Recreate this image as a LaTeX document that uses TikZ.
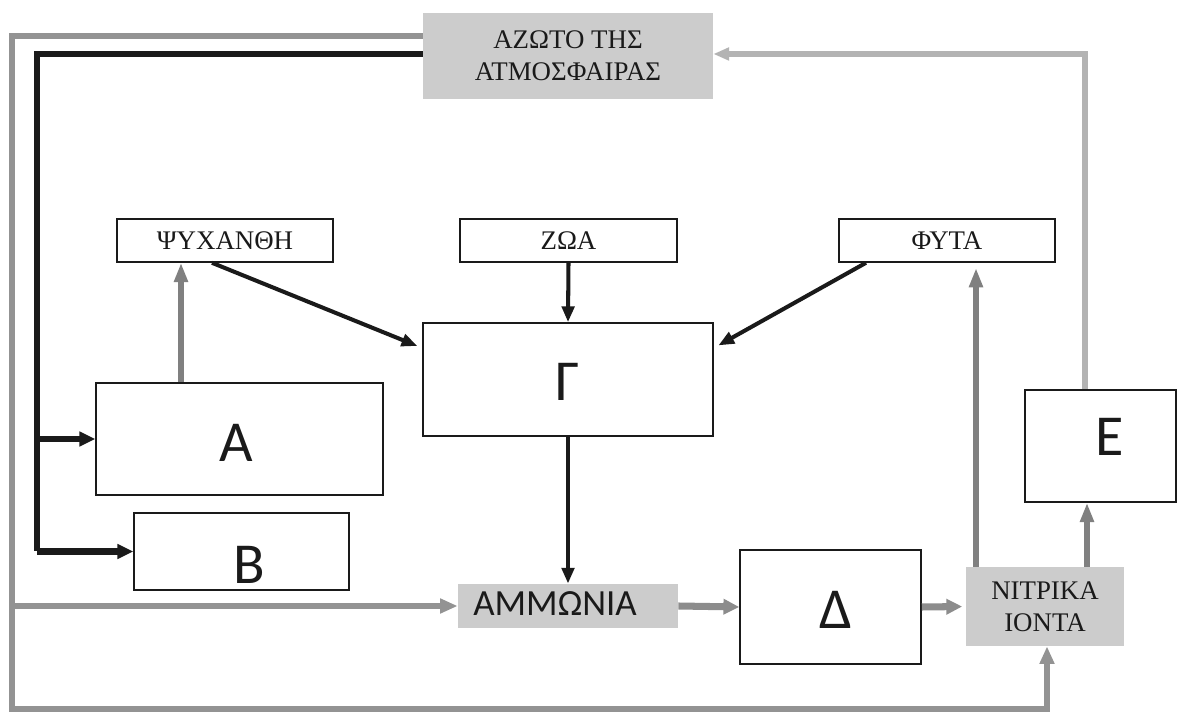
\documentclass[tikz,border=0pt]{standalone}
\usepackage{fontspec}
\setmainfont{Liberation Serif}
\newfontfamily\sansgr{Carlito}
\usetikzlibrary{arrows.meta}
\definecolor{boxgray}{HTML}{CCCCCC}
\definecolor{outergray}{HTML}{939393}
\definecolor{lightgray}{HTML}{B3B3B3}
\definecolor{arrgray}{HTML}{808080}
\definecolor{thickgray}{HTML}{8C8C8C}
\definecolor{blk}{HTML}{1A1A1A}
\begin{document}
\begin{tikzpicture}[x=0.02cm,y=-0.02cm,
  frame/.style={draw=blk,line width=0.9pt,rectangle,inner sep=0pt},
  shaded/.style={fill=boxgray,rectangle,inner sep=0pt},
  serlab/.style={font=\fontsize{15.3}{18}\selectfont,align=center,text=blk},
  biglab/.style={font=\sansgr\fontsize{33}{36}\selectfont,text=blk,inner sep=0pt},
  outerline/.style={draw=outergray,line width=3.4pt},
  lightline/.style={draw=lightgray,line width=3.4pt},
  blkline/.style={draw=blk,line width=3.6pt},
  blkarrow/.style={draw=blk,line width=2.3pt,-{Triangle[length=9pt,width=7pt]}},
  garrow/.style={draw=arrgray,line width=3.2pt,-{Triangle[length=11pt,width=7.5pt]}},
  tgarrow/.style={draw=thickgray,line width=4pt,-{Triangle[length=9pt,width=8.5pt]}},
]
\useasboundingbox[fill=white] (0,0) rectangle (1177,715);

% boxes
\node[shaded,minimum width=5.8cm,minimum height=1.72cm,serlab] (azoto) at (568,56) {ΑΖΩΤΟ ΤΗΣ\\ΑΤΜΟΣΦΑΙΡΑΣ};
\node[frame,minimum width=4.32cm,minimum height=0.86cm,serlab] (psy) at (225,240.5) {ΨΥΧΑΝΘΗ};
\node[frame,minimum width=4.34cm,minimum height=0.86cm,serlab] (zoa) at (568.5,240.5) {ΖΩΑ};
\node[frame,minimum width=4.32cm,minimum height=0.86cm,serlab] (fyta) at (947,240.5) {ΦΥΤΑ};
\node[frame,minimum width=5.8cm,minimum height=2.26cm] (gamma) at (568,379.5) {};
\node[frame,minimum width=5.74cm,minimum height=2.24cm] (A) at (239.5,439) {};
\node[frame,minimum width=4.3cm,minimum height=1.54cm] (B) at (241.5,551.5) {};
\node[shaded,minimum width=4.4cm,minimum height=0.88cm] (amm) at (568,606) {};
\node[frame,minimum width=3.62cm,minimum height=2.28cm] (delta) at (830.5,607) {};
\node[shaded,minimum width=3.16cm,minimum height=1.58cm,serlab] (nitr) at (1045,606.5) {ΝΙΤΡΙΚΑ\\ΙΟΝΤΑ};
\node[frame,minimum width=3.02cm,minimum height=2.24cm] (E) at (1100.5,446) {};

% labels
\node[biglab] (tA) at (236,443) {Α};
\node[biglab] (tB) at (249,565) {Β};
\node[biglab] (tG) at (568,382) {Γ};
\node[biglab] (tD) at (836,610) {Δ};
\node[biglab] (tE) at (1110,437) {Ε};
\node[font=\sansgr\fontsize{21}{24}\selectfont,text=blk,inner sep=0pt] (tAmm) at (555,604) {ΑΜΜΩΝΙΑ};

% helper coordinates
\coordinate (o1) at (12,36);
\coordinate (o2) at (12,709);
\coordinate (k1) at (37,54);
\coordinate (r1) at (1085,54);
\coordinate (gA) at (181,0);
\coordinate (pS) at (212,0);
\coordinate (gW) at (0,348);
\coordinate (fS) at (866,0);
\coordinate (nF) at (976,0);
\coordinate (nE) at (1087,0);
\coordinate (nB) at (1047,0);

% outer gray loop
\draw[outerline,-{Triangle[length=10pt,width=8pt]}] (azoto.west |- o1) -- (o1) -- (o2) -- (nB |- o2) -- (nB |- nitr.south);
\draw[outerline,-{Triangle[length=10pt,width=8pt]}] (o1 |- amm.west) -- (amm.west);

% black feed from atmosphere
\draw[blkline] (azoto.west |- k1) -- (k1) -- (k1 |- B.west);
\draw[blkline,-{Triangle[length=9pt,width=8pt]}] (k1 |- A.west) -- (A.west);
\draw[blkline,-{Triangle[length=9pt,width=8pt]}] (k1 |- B.west) -- (B.west);

% light gray return
\draw[lightline,-{Triangle[length=9pt,width=7pt]}] (r1 |- E.north) -- (r1) -- (azoto.east |- r1);

% gray up arrows
\draw[garrow] (gA |- A.north) -- (gA |- psy.south);
\draw[garrow,shorten >=3pt] (nF |- nitr.north) -- (nF |- fyta.south);
\draw[garrow] (nE |- nitr.north) -- (nE |- E.south);

% black arrows into gamma
\draw[blkarrow,shorten >=3pt] (pS |- psy.south) -- (gamma.west |- gW);
\draw[blkarrow] (zoa.south) -- (gamma.north);
\draw[blkarrow,shorten >=3pt] (fS |- fyta.south) -- (gamma.east |- gW);
\draw[blkarrow,line width=2.8pt] (gamma.south) -- (amm.north);

% bottom flow
\draw[tgarrow] (amm.east) -- (delta.west);
\draw[tgarrow,shorten >=2pt] (delta.east) -- (nitr.west);
\end{tikzpicture}
\end{document}
